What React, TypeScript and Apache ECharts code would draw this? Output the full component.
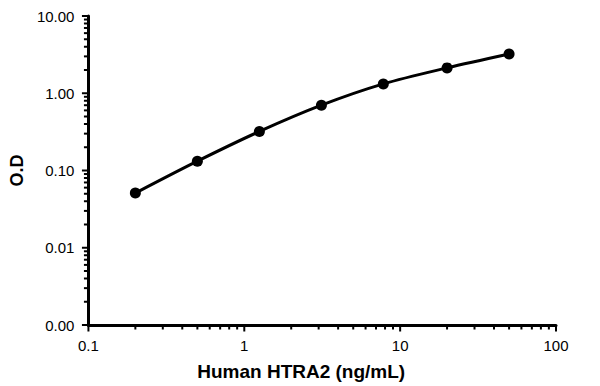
import React, { useEffect, useRef } from "react";
import * as echarts from "echarts";

const concentrations = [0.2, 0.5, 1.25, 3.125, 7.8, 20, 50];
const odValues = [0.051, 0.132, 0.32, 0.7, 1.32, 2.13, 3.22];
const xMajorTicks = [0.1, 1, 10, 100];
const yMajorTicks = [0.001, 0.01, 0.1, 1, 10];
const minorMultipliers = [2, 3, 4, 5, 6, 7, 8, 9];
const xDecades = [0.1, 1, 10];
const yDecades = [0.001, 0.01, 0.1, 1];

const xMinor: number[] = [];
xDecades.forEach((d) => minorMultipliers.forEach((m) => xMinor.push(+(d * m).toPrecision(3))));
const yMinor: number[] = [];
yDecades.forEach((d) => minorMultipliers.forEach((m) => yMinor.push(+(d * m).toPrecision(3))));

const FONT = "'Liberation Sans', Arial, sans-serif";

export default function App() {
  const ref = useRef<HTMLDivElement>(null);
  useEffect(() => {
    if (!ref.current) return;
    const chart = echarts.init(ref.current, null, { renderer: "svg" });
    const tickData: any[] = [];
    xMinor.forEach((v) => tickData.push([v, 0.001, 0, 3]));
    xMajorTicks.forEach((v) => tickData.push([v, 0.001, 0, 5]));
    yMinor.forEach((v) => tickData.push([0.1, v, 1, 3]));
    yMajorTicks.forEach((v) => tickData.push([0.1, v, 1, 5]));
    chart.setOption({
      animation: false,
      backgroundColor: "#ffffff",
      grid: { left: 82, right: 44, top: 16, bottom: 60, containLabel: false },
      xAxis: {
        type: "log",
        logBase: 10,
        min: 0.1,
        max: 100,
        name: "Human HTRA2 (ng/mL)",
        nameLocation: "middle",
        nameGap: 37,
        nameTextStyle: {
          fontFamily: FONT,
          fontWeight: "bold",
          fontSize: 19,
          color: "#000",
          padding: [0, 42, 0, 0],
        },
        axisLine: { show: true, lineStyle: { color: "#000", width: 3 } },
        axisTick: { show: false },
        minorTick: { show: false },
        splitLine: { show: false },
        axisLabel: {
          margin: 13,
          fontFamily: FONT,
          fontSize: 15,
          color: "#000",
          formatter: (v: number) => String(+v.toPrecision(3)),
        },
      },
      yAxis: {
        type: "log",
        logBase: 10,
        min: 0.001,
        max: 10,
        name: "O.D",
        nameLocation: "middle",
        nameRotate: 90,
        nameGap: 57,
        nameTextStyle: {
          fontFamily: FONT,
          fontWeight: "bold",
          fontSize: 18,
          color: "#000",
        },
        axisLine: { show: true, lineStyle: { color: "#000", width: 3 } },
        axisTick: { show: false },
        minorTick: { show: false },
        splitLine: { show: false },
        axisLabel: {
          margin: 14,
          fontFamily: FONT,
          fontSize: 15,
          color: "#000",
          formatter: (v: number) => v.toFixed(2),
        },
      },
      series: [
        {
          type: "custom",
          clip: false,
          silent: true,
          z: 1,
          data: tickData,
          renderItem: (params: any, api: any) => {
            const p = api.coord([api.value(0), api.value(1)]);
            const dir = api.value(2);
            const len = api.value(3);
            const shape =
              dir === 0
                ? { x1: p[0], y1: p[1], x2: p[0], y2: p[1] + 1.5 + len }
                : { x1: p[0], y1: p[1], x2: p[0] - 1.5 - len, y2: p[1] };
            return {
              type: "line",
              shape,
              style: { stroke: "#000", lineWidth: 2 },
            };
          },
        },
        {
          type: "line",
          data: concentrations.map((c, i) => [c, odValues[i]]),
          smooth: 0.3,
          symbol: "circle",
          symbolSize: 11,
          lineStyle: { color: "#000", width: 3 },
          itemStyle: { color: "#000" },
          z: 3,
        },
      ],
    });
    return () => chart.dispose();
  }, []);
  return (
    <div
      ref={ref}
      style={{ position: "fixed", left: 0, top: 0, width: 600, height: 386 }}
    />
  );
}
